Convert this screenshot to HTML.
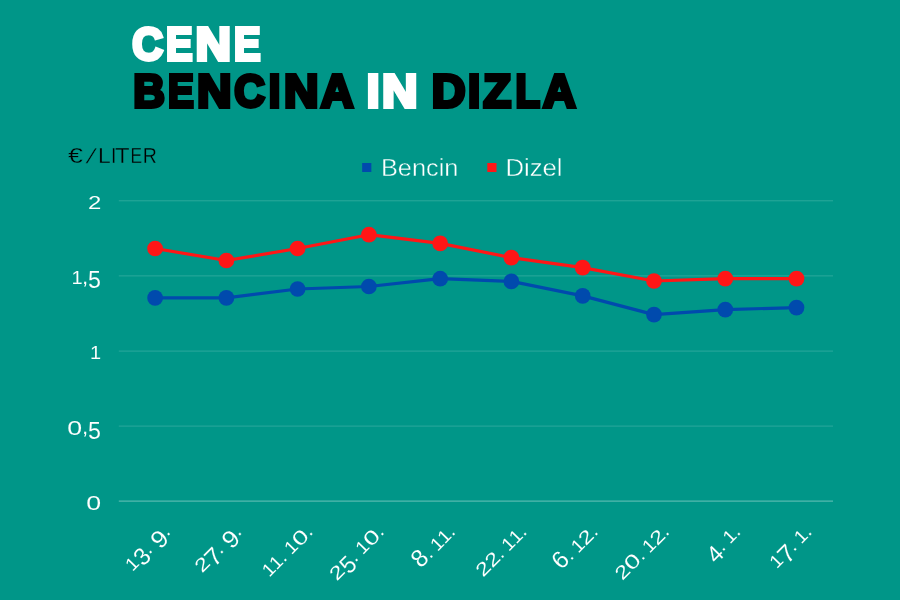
<!DOCTYPE html>
<html lang="sl"><head><meta charset="utf-8"><title>Cene bencina in dizla</title>
<style>
html,body{margin:0;padding:0;width:900px;height:600px;overflow:hidden;background:#009688;font-family:"Liberation Sans",sans-serif;}
svg{display:block;position:absolute;left:0;top:0;will-change:transform;}
text{font-family:"Liberation Sans",sans-serif;}
.t{font-weight:bold;font-size:46.5px;stroke-width:3.8px;stroke-linejoin:miter;paint-order:stroke;}
.w{fill:#fff;stroke:#fff;}
.k{fill:#000;stroke:#000;}
.ax{fill:#fff;font-size:20px;stroke:#009688;stroke-width:0.08px;}
.u{fill:#000;font-size:21.6px;stroke:#009688;stroke-width:0.35px;}
.lg{fill:#fff;font-size:24.4px;stroke:#009688;stroke-width:0.4px;}
</style></head><body>
<svg width="900" height="600" viewBox="0 0 900 600">
<g class="t w">
<text transform="translate(132.15,60.00) scale(0.9177,1)">C</text>
<text transform="translate(165.94,60.00) scale(0.8548,1)">E</text>
<text transform="translate(195.61,60.00) scale(1.0572,1)">N</text>
<text transform="translate(233.94,60.00) scale(0.8548,1)">E</text>
</g>
<g class="t k">
<text transform="translate(133.17,106.90) scale(0.9415,1)">B</text>
<text transform="translate(168.01,106.90) scale(0.8318,1)">E</text>
<text transform="translate(197.00,106.90) scale(1.0279,1)">N</text>
<text transform="translate(234.36,106.90) scale(0.9144,1)">C</text>
<text transform="translate(268.81,106.90) scale(0.8958,1)">I</text>
<text transform="translate(284.00,106.90) scale(1.0279,1)">N</text>
<text transform="translate(320.77,106.90) scale(0.9745,1)">A</text>
</g>
<g class="t w">
<text transform="translate(366.83,106.90) scale(0.9854,1)">I</text>
<text transform="translate(381.91,106.90) scale(1.0572,1)">N</text>
</g>
<g class="t k">
<text transform="translate(431.77,106.90) scale(1.0064,1)">D</text>
<text transform="translate(468.07,106.90) scale(0.9406,1)">I</text>
<text transform="translate(483.34,106.90) scale(0.9813,1)">Z</text>
<text transform="translate(515.41,106.90) scale(0.8633,1)">L</text>
<text transform="translate(543.07,106.90) scale(0.9745,1)">A</text>
</g>
<g class="u">
<text transform="translate(68.09,162.9) scale(1.239,1)">€</text>
<text transform="translate(85.70,162.9) skewX(-19) scale(1,0.94)">/</text>
<text transform="translate(98.12,162.9) scale(1.060,1)">L</text>
<text transform="translate(111.02,162.9) scale(0.894,1)">I</text>
<text transform="translate(115.06,162.9) scale(1.105,1)">T</text>
<text transform="translate(130.48,162.9) scale(0.803,1)">E</text>
<text transform="translate(142.80,162.9) scale(0.904,1)">R</text>
</g>
<rect x="362.15" y="163" width="9.2" height="9" fill="#004aad"/>
<text class="lg" x="380.9" y="176.0" textLength="77.5" lengthAdjust="spacingAndGlyphs">Bencin</text>
<rect x="487.3" y="163" width="9.2" height="9" fill="#ff1616"/>
<text class="lg" x="505.4" y="176.0" textLength="57.2" lengthAdjust="spacingAndGlyphs">Dizel</text>
<line x1="118.8" x2="833" y1="200.8" y2="200.8" stroke="#2ba89c" stroke-width="1"/>
<line x1="118.8" x2="833" y1="275.9" y2="275.9" stroke="#2ba89c" stroke-width="1"/>
<line x1="118.8" x2="833" y1="351.1" y2="351.1" stroke="#2ba89c" stroke-width="1"/>
<line x1="118.8" x2="833" y1="426.1" y2="426.1" stroke="#2ba89c" stroke-width="1"/>
<line x1="118.8" x2="833" y1="501.2" y2="501.2" stroke="#55b9af" stroke-width="1.2"/>
<g class="ax" transform="translate(88.20,208.90)">
<text transform="translate(-0.30,0.00) scale(1.196,0.924)">2</text>
</g>
<g class="ax" transform="translate(72.00,284.00)">
<text transform="translate(-0.62,0.00) scale(0.997,0.908)">1</text>
<text transform="translate(9.99,0.23) scale(1.121,1.043)">,</text>
<text transform="translate(16.07,4.26) scale(1.160,1.211)">5</text>
</g>
<g class="ax" transform="translate(90.50,359.15)">
<text transform="translate(-0.62,0.00) scale(0.997,0.908)">1</text>
</g>
<g class="ax" transform="translate(67.20,434.25)">
<text transform="translate(0.15,0.31) scale(1.339,0.989)">0</text>
<text transform="translate(14.79,0.23) scale(1.121,1.043)">,</text>
<text transform="translate(20.87,4.26) scale(1.160,1.211)">5</text>
</g>
<g class="ax" transform="translate(86.00,509.30)">
<text transform="translate(0.15,0.31) scale(1.339,0.989)">0</text>
</g>
<polyline points="155.1,297.9 226.4,297.9 297.6,289.0 368.9,286.5 440.2,278.7 511.4,281.4 582.7,295.9 654.0,314.6 725.3,309.6 796.5,307.6" fill="none" stroke="#004aad" stroke-width="3.2" stroke-linejoin="round"/>
<circle cx="155.1" cy="297.9" r="7.85" fill="#004aad"/>
<circle cx="226.4" cy="297.9" r="7.85" fill="#004aad"/>
<circle cx="297.6" cy="289.0" r="7.85" fill="#004aad"/>
<circle cx="368.9" cy="286.5" r="7.85" fill="#004aad"/>
<circle cx="440.2" cy="278.7" r="7.85" fill="#004aad"/>
<circle cx="511.4" cy="281.4" r="7.85" fill="#004aad"/>
<circle cx="582.7" cy="295.9" r="7.85" fill="#004aad"/>
<circle cx="654.0" cy="314.6" r="7.85" fill="#004aad"/>
<circle cx="725.3" cy="309.6" r="7.85" fill="#004aad"/>
<circle cx="796.5" cy="307.6" r="7.85" fill="#004aad"/>
<polyline points="155.1,248.5 226.4,260.5 297.6,248.5 368.9,234.7 440.2,243.4 511.4,257.6 582.7,267.6 654.0,281.0 725.3,278.6 796.5,278.6" fill="none" stroke="#ff1616" stroke-width="3.2" stroke-linejoin="round"/>
<circle cx="155.1" cy="248.5" r="7.85" fill="#ff1616"/>
<circle cx="226.4" cy="260.5" r="7.85" fill="#ff1616"/>
<circle cx="297.6" cy="248.5" r="7.85" fill="#ff1616"/>
<circle cx="368.9" cy="234.7" r="7.85" fill="#ff1616"/>
<circle cx="440.2" cy="243.4" r="7.85" fill="#ff1616"/>
<circle cx="511.4" cy="257.6" r="7.85" fill="#ff1616"/>
<circle cx="582.7" cy="267.6" r="7.85" fill="#ff1616"/>
<circle cx="654.0" cy="281.0" r="7.85" fill="#ff1616"/>
<circle cx="725.3" cy="278.6" r="7.85" fill="#ff1616"/>
<circle cx="796.5" cy="278.6" r="7.85" fill="#ff1616"/>
<g class="ax" transform="translate(170.20,534.20) rotate(-45) translate(-52.70,0)">
<text transform="translate(-0.62,0.00) scale(0.997,0.908)">1</text>
<text transform="translate(10.40,4.26) scale(1.181,1.215)">3</text>
<text transform="translate(23.19,0.00) scale(1.103,0.982)">.</text>
<text transform="translate(34.48,4.26) scale(1.299,1.215)">9</text>
<text transform="translate(48.59,0.00) scale(1.103,0.982)">.</text>
</g>
<g class="ax" transform="translate(241.47,534.20) rotate(-45) translate(-55.40,0)">
<text transform="translate(-0.30,0.00) scale(1.196,0.924)">2</text>
<text transform="translate(12.35,4.40) scale(1.320,1.221)">7</text>
<text transform="translate(25.89,0.00) scale(1.103,0.982)">.</text>
<text transform="translate(37.18,4.26) scale(1.299,1.215)">9</text>
<text transform="translate(51.29,0.00) scale(1.103,0.982)">.</text>
</g>
<g class="ax" transform="translate(312.74,534.20) rotate(-45) translate(-61.00,0)">
<text transform="translate(-0.62,0.00) scale(0.997,0.908)">1</text>
<text transform="translate(9.78,0.00) scale(0.997,0.908)">1</text>
<text transform="translate(20.39,0.00) scale(1.103,0.982)">.</text>
<text transform="translate(31.08,0.00) scale(0.997,0.908)">1</text>
<text transform="translate(42.25,0.31) scale(1.339,0.989)">0</text>
<text transform="translate(56.89,0.00) scale(1.103,0.982)">.</text>
</g>
<g class="ax" transform="translate(384.01,534.20) rotate(-45) translate(-66.50,0)">
<text transform="translate(-0.30,0.00) scale(1.196,0.924)">2</text>
<text transform="translate(13.17,4.26) scale(1.160,1.211)">5</text>
<text transform="translate(25.89,0.00) scale(1.103,0.982)">.</text>
<text transform="translate(36.58,0.00) scale(0.997,0.908)">1</text>
<text transform="translate(47.75,0.31) scale(1.339,0.989)">0</text>
<text transform="translate(62.39,0.00) scale(1.103,0.982)">.</text>
</g>
<g class="ax" transform="translate(455.28,534.20) rotate(-45) translate(-49.00,0)">
<text transform="translate(0.16,-0.04) scale(1.193,1.229)">8</text>
<text transform="translate(13.19,0.00) scale(1.103,0.982)">.</text>
<text transform="translate(23.88,0.00) scale(0.997,0.908)">1</text>
<text transform="translate(34.28,0.00) scale(0.997,0.908)">1</text>
<text transform="translate(44.89,0.00) scale(1.103,0.982)">.</text>
</g>
<g class="ax" transform="translate(526.55,534.20) rotate(-45) translate(-61.20,0)">
<text transform="translate(-0.30,0.00) scale(1.196,0.924)">2</text>
<text transform="translate(12.60,0.00) scale(1.196,0.924)">2</text>
<text transform="translate(25.39,0.00) scale(1.103,0.982)">.</text>
<text transform="translate(36.08,0.00) scale(0.997,0.908)">1</text>
<text transform="translate(46.48,0.00) scale(0.997,0.908)">1</text>
<text transform="translate(57.09,0.00) scale(1.103,0.982)">.</text>
</g>
<g class="ax" transform="translate(597.82,534.20) rotate(-45) translate(-51.60,0)">
<text transform="translate(0.07,-0.04) scale(1.214,1.215)">6</text>
<text transform="translate(13.29,0.00) scale(1.103,0.982)">.</text>
<text transform="translate(23.98,0.00) scale(0.997,0.908)">1</text>
<text transform="translate(34.70,0.00) scale(1.196,0.924)">2</text>
<text transform="translate(47.49,0.00) scale(1.103,0.982)">.</text>
</g>
<g class="ax" transform="translate(669.09,534.20) rotate(-45) translate(-66.00,0)">
<text transform="translate(-0.30,0.00) scale(1.196,0.924)">2</text>
<text transform="translate(13.05,0.31) scale(1.339,0.989)">0</text>
<text transform="translate(27.69,0.00) scale(1.103,0.982)">.</text>
<text transform="translate(38.38,0.00) scale(0.997,0.908)">1</text>
<text transform="translate(49.10,0.00) scale(1.196,0.924)">2</text>
<text transform="translate(61.89,0.00) scale(1.103,0.982)">.</text>
</g>
<g class="ax" transform="translate(740.36,534.20) rotate(-45) translate(-38.80,0)">
<text transform="translate(0.25,4.20) scale(1.191,1.192)">4</text>
<text transform="translate(13.39,0.00) scale(1.103,0.982)">.</text>
<text transform="translate(24.08,0.00) scale(0.997,0.908)">1</text>
<text transform="translate(34.69,0.00) scale(1.103,0.982)">.</text>
</g>
<g class="ax" transform="translate(811.63,534.20) rotate(-45) translate(-48.80,0)">
<text transform="translate(-0.62,0.00) scale(0.997,0.908)">1</text>
<text transform="translate(9.85,4.40) scale(1.320,1.221)">7</text>
<text transform="translate(23.39,0.00) scale(1.103,0.982)">.</text>
<text transform="translate(34.08,0.00) scale(0.997,0.908)">1</text>
<text transform="translate(44.69,0.00) scale(1.103,0.982)">.</text>
</g>
</svg></body></html>
